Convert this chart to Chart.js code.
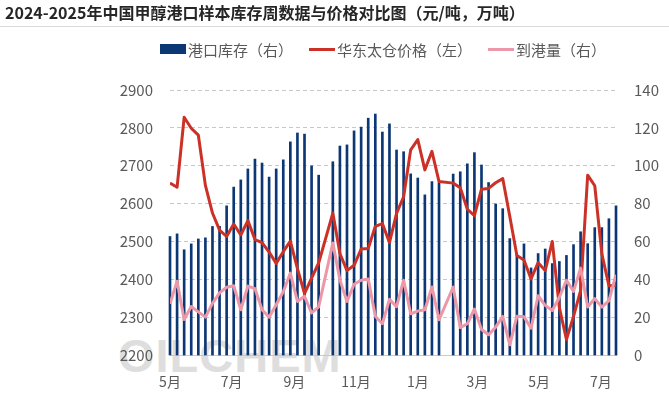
<!DOCTYPE html>
<html>
<head>
<meta charset="utf-8">
<script src="https://cdn.jsdelivr.net/npm/chart.js@4.4.1/dist/chart.umd.min.js"></script>
<style>
html,body{margin:0;padding:0;background:#fff;}
#wrap{position:relative;width:669px;height:399px;overflow:hidden;font-family:"Noto Sans CJK SC","Noto Sans",sans-serif;background:#fff;}
#title{position:absolute;left:0;top:0;width:669px;height:27px;border-bottom:1px solid #d9d9d9;box-sizing:border-box;padding-left:5px;font-size:16px;font-weight:bold;line-height:25px;color:#262626;white-space:nowrap;}
#legend{position:absolute;left:160px;top:39px;height:20px;display:flex;align-items:center;font-size:15px;color:#595959;white-space:nowrap;}
#legend .item{display:flex;align-items:center;margin-right:16px;}
#legend .sw{width:26px;margin-right:2px;}
#legend .bar{height:10px;background:#0c3775;}
#legend .ln{height:3px;}
#chart{position:absolute;left:0;top:0;}
#wm{position:absolute;left:118px;top:328px;font-family:"Liberation Sans",Arial,sans-serif;font-weight:bold;font-size:47px;color:#dedede;pointer-events:none;letter-spacing:1px;}
</style>
</head>
<body>
<div id="wrap">
  <div id="wm">OILCHEM</div>
  <canvas id="chart" width="669" height="399"></canvas>
  <div id="title">2024-2025年中国甲醇港口样本库存周数据与价格对比图（元/吨，万吨）</div>
  <div id="legend"></div>
</div>
<script>
// weekly dates (Wednesdays)
const weeks = [
 '2024-05-01','2024-05-08','2024-05-15','2024-05-22','2024-05-29','2024-06-05','2024-06-12','2024-06-19',
 '2024-06-26','2024-07-03','2024-07-10','2024-07-17','2024-07-24','2024-07-31','2024-08-07','2024-08-14',
 '2024-08-21','2024-08-28','2024-09-04','2024-09-11','2024-09-18','2024-09-25','2024-10-02','2024-10-09',
 '2024-10-16','2024-10-23','2024-10-30','2024-11-06','2024-11-13','2024-11-20','2024-11-27','2024-12-04',
 '2024-12-11','2024-12-18','2024-12-25','2025-01-01','2025-01-08','2025-01-15','2025-01-22','2025-01-29',
 '2025-02-05','2025-02-12','2025-02-19','2025-02-26','2025-03-05','2025-03-12','2025-03-19','2025-03-26',
 '2025-04-02','2025-04-09','2025-04-16','2025-04-23','2025-04-30','2025-05-07','2025-05-14','2025-05-21',
 '2025-05-28','2025-06-04','2025-06-11','2025-06-18','2025-06-25','2025-07-02','2025-07-09','2025-07-16'
];
// 港口库存（右，万吨）
const inventory = [
 62.6,64.0,55.6,58.7,61.3,61.9,67.9,68.0,78.8,88.7,92.5,98.3,103.5,101.4,94.0,98.3,
 103.1,112.6,117.3,116.7,99.9,95.0,null,102.1,110.4,111.0,118.4,120.4,125.1,127.3,117.8,122.1,
 108.3,107.4,95.7,93.5,84.6,91.6,91.0,null,95.6,96.8,101.0,106.9,100.4,91.1,79.8,77.3,
 61.5,53.0,58.7,46.0,53.6,56.0,48.3,49.4,52.6,58.3,65.1,58.8,67.3,67.3,72.0,78.8
];
// 华东太仓价格（左，元/吨）
const price = [
 2654,2643,2828,2799,2781,2648,2575,2530,2513,2546,2517,2555,2505,2497,2472,2442,
 2473,2501,2428,2362,2403,2443,null,2575,2468,2423,2437,2480,2481,2540,2547,2497,
 2574,2618,2742,2769,2689,2738,2658,null,2654,2642,2585,2568,2638,2640,2655,2666,
 2566,2463,2451,2401,2444,2423,2500,2325,2241,2302,2370,2675,2647,2467,2383,2384
];
// 到港量（右，万吨）
const arrivals = [
 27.0,39.0,18.8,25.6,22.8,20.0,27.3,32.8,35.8,36.6,23.9,36.4,35.1,23.9,20.0,26.5,
 33.4,43.3,28.3,31.0,22.2,25.4,null,59.2,39.7,28.3,37.4,39.5,40.2,20.5,16.5,29.4,
 25.5,39.5,21.8,23.2,23.9,35.9,18.6,null,35.9,14.5,16.5,24.3,13.5,10.7,14.7,20.4,
 5.4,20.5,20.2,14.2,31.3,26.2,23.5,30.5,39.5,33.6,45.9,25.4,29.8,25.3,28.7,42.4
];
const monthTicks = ['2024-05-01','2024-07-01','2024-09-01','2024-11-01','2025-01-01','2025-03-01','2025-05-01','2025-07-01'];
const monthLabels = ['5月','7月','9月','11月','1月','3月','5月','7月'];
const leftTicks = [2200,2300,2400,2500,2600,2700,2800,2900];
const rightTicks = [0,20,40,60,80,100,120,140];

const seriesNames = ['港口库存（右）','华东太仓价格（左）','到港量（右）'];
const colors = ['#0c3775','#cc3128','#ec98a8'];

const t0 = Date.parse(weeks[0]);
const day = d => (Date.parse(d) - t0) / 86400000;
const pts = arr => weeks.map((w, i) => ({x: day(w), y: arr[i]}));

// HTML legend
const lg = document.getElementById('legend');
seriesNames.forEach((n, i) => {
  const it = document.createElement('div'); it.className = 'item';
  const sw = document.createElement('div'); sw.className = 'sw ' + (i === 0 ? 'bar' : 'ln');
  sw.style.background = colors[i];
  const tx = document.createElement('span'); tx.textContent = n;
  it.appendChild(sw); it.appendChild(tx); lg.appendChild(it);
});

const tickFont = {family: '"Noto Sans CJK SC","Noto Sans",sans-serif', size: 15};

new Chart(document.getElementById('chart'), {
  type: 'bar',
  data: {
    datasets: [
      {type: 'bar', label: seriesNames[0], data: pts(inventory), backgroundColor: colors[0],
       barThickness: 2, maxBarThickness: 2, yAxisID: 'yR', order: 3, clip: false},
      {type: 'line', label: seriesNames[1], data: pts(price), borderColor: colors[1], borderWidth: 3,
       pointRadius: 0, tension: 0, spanGaps: true, yAxisID: 'yL', order: 2, borderJoinStyle: 'round'},
      {type: 'line', label: seriesNames[2], data: pts(arrivals), borderColor: colors[2], borderWidth: 3,
       pointRadius: 0, tension: 0, spanGaps: true, yAxisID: 'yR', order: 1, borderJoinStyle: 'round'}
    ]
  },
  options: {
    responsive: false,
    animation: false,
    devicePixelRatio: 1,
    layout: {padding: {left: 100, right: 0, top: 90, bottom: 0}},
    plugins: {legend: {display: false}, tooltip: {enabled: false}, title: {display: false}},
    scales: {
      x: {
        type: 'linear', offset: false, min: 0, max: day(weeks[weeks.length - 1]),
        afterBuildTicks: s => { s.ticks = monthTicks.map(d => ({value: day(d)})); },
        afterFit: s => { s.height = 44; },
        grid: {display: false, drawTicks: false, offset: false},
        border: {display: true, color: '#c3cad6', width: 1},
        ticks: {autoSkip: false, maxRotation: 0, padding: 18, color: '#595959',
                font: {family: tickFont.family, size: 14},
                callback: (v, i) => monthLabels[i]}
      },
      yL: {
        position: 'left', min: leftTicks[0], max: leftTicks[leftTicks.length - 1],
        afterBuildTicks: s => { s.ticks = leftTicks.map(v => ({value: v})); },
        afterFit: s => { s.width = 70; },
        grid: {drawTicks: false, color: c => c.tick && c.tick.value === leftTicks[0] ? 'rgba(0,0,0,0)' : '#c8c8c8', lineWidth: 1},
        border: {display: false, dash: [4, 3]},
        ticks: {padding: 17, color: '#595959', font: tickFont, callback: v => String(v)}
      },
      yR: {
        position: 'right', min: rightTicks[0], max: rightTicks[rightTicks.length - 1],
        afterBuildTicks: s => { s.ticks = rightTicks.map(v => ({value: v})); },
        afterFit: s => { s.width = 53; },
        grid: {display: false, drawTicks: false},
        border: {display: false},
        ticks: {padding: 18, color: '#595959', font: tickFont, callback: v => String(v)}
      }
    }
  }
});
</script>
</body>
</html>
